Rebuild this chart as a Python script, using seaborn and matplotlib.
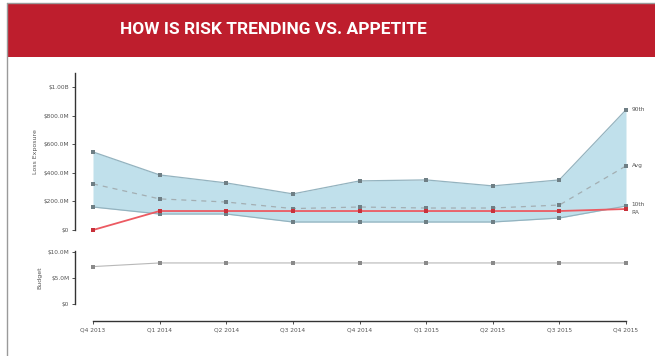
import matplotlib
matplotlib.use("Agg")
import matplotlib.pyplot as plt
import seaborn as sns
import pandas as pd
import numpy as np
from matplotlib.patches import Rectangle
from matplotlib.lines import Line2D

quarters = ["Q4 2013", "Q1 2014", "Q2 2014", "Q3 2014", "Q4 2014",
            "Q1 2015", "Q2 2015", "Q3 2015", "Q4 2015"]
p90 = [547, 386, 330, 253, 344, 351, 309, 351, 842]      # $M
avg = [323, 218, 196, 150, 161, 154, 154, 175, 449]      # $M
p10 = [161, 112, 112, 56, 56, 56, 56, 84, 168]           # $M
ra = [0, 133, 133, 133, 133, 133, 133, 133, 147]         # $M
budget = [7.2, 7.9, 7.9, 7.9, 7.9, 7.9, 7.9, 7.9, 7.9]   # $M
y_ticks_top = [0, 200, 400, 600, 800, 1000]
y_ticks_top_labels = ["$0", "$200.0M", "$400.0M", "$600.0M", "$800.0M", "$1.00B"]
y_ticks_bot = [0, 5, 10]
y_ticks_bot_labels = ["$0", "$5.0M", "$10.0M"]
end_labels = ["90th", "Avg", "10th", "RA"]

sns.set_theme(style="white")
plt.rcParams['font.family'] = ['DejaVu Sans']

W, H = 655, 356
fig = plt.figure(figsize=(W / 100, H / 100), dpi=100)

def fx(px):
    return px / W

def fy(py):
    return 1 - py / H

# frame and banner
fig.add_artist(Line2D([fx(7), fx(7)], [0, fy(3)], color="#9a9a9a", lw=1.0))
fig.add_artist(Line2D([fx(7), 1], [fy(3), fy(3)], color="#9a9a9a", lw=1.0))
fig.add_artist(Rectangle((fx(8), fy(57)), 1 - fx(8), fy(4) - fy(57),
                         facecolor="#BE1E2D", edgecolor="none"))
fig.text(fx(273), fy(29), "HOW IS RISK TRENDING VS. APPETITE", color="white",
         fontsize=12.5, fontweight="bold", ha="center", va="center",
         family=["Roboto", "DejaVu Sans"])

df = pd.DataFrame({"q": np.arange(len(quarters)), "p90": p90, "avg": avg,
                   "p10": p10, "ra": ra, "budget": budget})

x0, x1 = 93, 626
ax = fig.add_axes([fx(x0), fy(230), fx(x1) - fx(x0), fy(73) - fy(230)])
ax.fill_between(df["q"], df["p10"], df["p90"], color="#C0E0EB", lw=0)
band_c = "#94b3bf"
mk = "#6f7f85"
sns.lineplot(data=df, x="q", y="p90", ax=ax, color=band_c, lw=0.9,
             marker="s", markersize=2.5, markeredgewidth=0,
             markerfacecolor=mk, clip_on=False)
sns.lineplot(data=df, x="q", y="p10", ax=ax, color=band_c, lw=0.9,
             marker="s", markersize=2.5, markeredgewidth=0,
             markerfacecolor=mk, clip_on=False)
sns.lineplot(data=df, x="q", y="avg", ax=ax, color="#a3aeb2", lw=0.9,
             linestyle=(0, (4, 4)), marker="s", markersize=2.5,
             markeredgewidth=0, markerfacecolor=mk, clip_on=False)
sns.lineplot(data=df, x="q", y="ra", ax=ax, color="#EC5A62", lw=1.3,
             marker="s", markersize=3.2, markeredgewidth=0,
             markerfacecolor="#C8303A", clip_on=False)
ax.set_xlim(0, len(quarters) - 1)
ax.set_ylim(0, 1100)
ax.set_yticks(y_ticks_top)
ax.set_yticklabels(y_ticks_top_labels)
ax.set_xticks([])
ax.set_xlabel("")
ax.set_ylabel("Loss Exposure", fontsize=4.5, color="#555555", labelpad=4)
for s in ["top", "right", "bottom"]:
    ax.spines[s].set_visible(False)
ax.spines["left"].set_position(("outward", 13))
ax.spines["left"].set_color("#333333")
ax.spines["left"].set_linewidth(1.0)
ax.tick_params(axis="y", left=True, length=2.5, width=0.6, color="#333333",
               labelsize=4.2, labelcolor="#555555", pad=1.5)

last = len(quarters) - 1
for lab, vals, dy in zip(end_labels, [p90, avg, p10, ra], [0, 0, 1, -2.5]):
    ax.annotate(lab, (last, vals[last]), xytext=(4, dy), textcoords="offset points",
                fontsize=4.2, color="#555555", va="center", ha="left",
                annotation_clip=False)

ax2 = fig.add_axes([fx(x0), fy(304), fx(x1) - fx(x0), fy(251) - fy(304)])
sns.lineplot(data=df, x="q", y="budget", ax=ax2, color="#b8b8b8", lw=0.8,
             marker="s", markersize=2.2, markeredgewidth=0,
             markerfacecolor="#8a8a8a", clip_on=False)
ax2.set_xlim(0, len(quarters) - 1)
ax2.set_ylim(0, 10.2)
ax2.set_yticks(y_ticks_bot)
ax2.set_yticklabels(y_ticks_bot_labels)
ax2.set_xticks(df["q"])
ax2.set_xticklabels(quarters)
ax2.set_xlabel("")
ax2.set_ylabel("Budget", fontsize=4.5, color="#555555", labelpad=4)
for s in ["top", "right"]:
    ax2.spines[s].set_visible(False)
ax2.spines["left"].set_position(("outward", 13))
ax2.spines["bottom"].set_position(("outward", 12))
for s in ["left", "bottom"]:
    ax2.spines[s].set_color("#333333")
    ax2.spines[s].set_linewidth(1.0)
ax2.tick_params(axis="y", left=True, length=2.5, width=0.6, color="#333333",
                labelsize=4.2, labelcolor="#555555", pad=1.5)
ax2.tick_params(axis="x", bottom=True, length=2.5, width=0.6, color="#333333",
                labelsize=4.2, labelcolor="#555555", pad=2.5)

fig.savefig("out.png", dpi=100, facecolor="white")
